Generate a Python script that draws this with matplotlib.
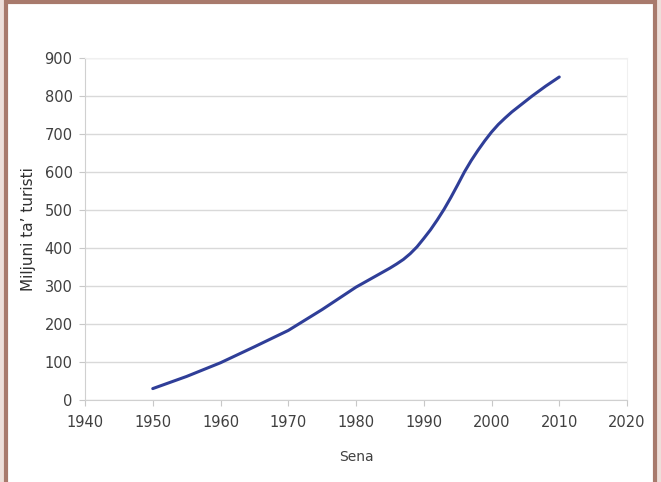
import matplotlib
matplotlib.use("Agg")
import matplotlib.pyplot as plt
from matplotlib.patches import Rectangle

# values
years = [1950, 1955, 1960, 1965, 1970, 1975, 1980, 1983, 1985, 1986, 1987,
         1988, 1989, 1990, 1991, 1992, 1993, 1994, 1995, 1996, 1997, 1998,
         1999, 2000, 2001, 2002, 2003, 2004, 2006, 2008, 2010]
tourists = [30, 62, 98, 140, 183, 238, 297, 327, 347, 358, 370,
            385, 403, 425, 448, 474, 502, 533, 566, 600, 630, 657,
            682, 705, 725, 742, 758, 772, 800, 826, 850]

x_ticks = list(range(1940, 2021, 10))
y_ticks = list(range(0, 901, 100))

W, H = 661, 482
fig = plt.figure(figsize=(W / 100, H / 100), dpi=100)
fig.patch.set_facecolor("#eddfda")

# brown frame around white card
fig.patches.append(Rectangle((6 / W, -0.05), 649 / W, 1.05 - 2 / H,
                             transform=fig.transFigure, facecolor="white",
                             edgecolor="#a87a6c", linewidth=3, zorder=-10))

ax = fig.add_axes([85 / W, 1 - 400 / H, 542 / W, 342 / H])
ax.plot(years, tourists, color="#2f3e98", linewidth=2.2,
        solid_capstyle="round", solid_joinstyle="round")

ax.set_xlim(1940, 2020)
ax.set_ylim(0, 900)
ax.set_xticks(x_ticks)
ax.set_yticks(y_ticks)
ax.grid(axis="y", color="#d9d9d9", linewidth=1)
ax.set_axisbelow(True)

for side in ["left", "bottom"]:
    ax.spines[side].set_color("#d0d0d0")
for side in ["top", "right"]:
    ax.spines[side].set_color("#f0f0f0")
ax.tick_params(axis="x", length=4, color="#c8c8c8", labelcolor="#404040",
               labelsize=10.5, pad=7)
ax.tick_params(axis="y", length=4, color="#c8c8c8", labelcolor="#404040",
               labelsize=10.5, pad=5)

ax.set_xlabel("Sena", fontsize=10, color="#404040", labelpad=14)
ax.set_ylabel("Miljuni ta’ turisti", fontsize=11, color="#303030", labelpad=6)

fig.savefig("out.png", dpi=100)
